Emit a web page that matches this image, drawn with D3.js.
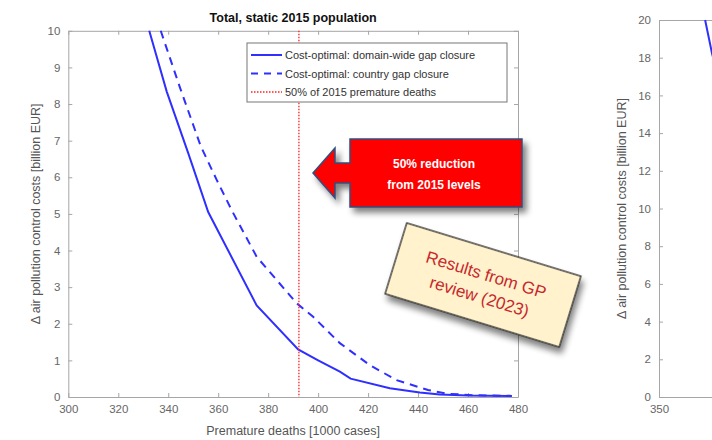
<!DOCTYPE html>
<html><head><meta charset="utf-8">
<script src="https://cdn.jsdelivr.net/npm/d3@7"></script>
<style>body{margin:0;background:#fff}svg{display:block}text{font-family:"Liberation Sans",Arial,sans-serif}</style>
</head><body>
<svg id="c" width="712" height="440"></svg>
<script>
// ---- data ----
const xTicks = [300,320,340,360,380,400,420,440,460,480];
const yTicks = [0,1,2,3,4,5,6,7,8,9,10];
const domainWideX = [332.4,339.4,348,356,375.4,392,400,408.7,413,428.7,440.7,448.7,460,477.5];
const domainWideY = [10,8.34,6.66,5.05,2.5,1.3,1.0,0.69,0.5,0.24,0.12,0.07,0.04,0.03];
const countryX = [337,344.7,353,359.4,365.4,375.4,391.4,398,408.7,420.7,431.4,444,451.4,462,477.5];
const countryY = [10,8.45,6.85,5.93,5.1,3.83,2.56,2.19,1.47,0.87,0.46,0.19,0.09,0.05,0.03];
const halfDeaths = 392.3;
const legendLabels = ["Cost-optimal: domain-wide gap closure","Cost-optimal: country gap closure","50% of 2015 premature deaths"];
const rightYTicks = [0,2,4,6,8,10,12,14,16,18,20];
const rightXTicks = [350];
const rightLineX = [366.4,368.9,372];
const rightLineY = [20,18.2,16.5];

const svg = d3.select("#c");
const axisCol = "#a6a6a6", tickTxt = "#666", blue = "#2f2fff";

// ---- left chart ----
const L = {l:68.3, r:518, t:30.8, b:397};
const x = d3.scaleLinear().domain([300,480]).range([L.l,L.r]);
const y = d3.scaleLinear().domain([0,10]).range([L.b,L.t]);
const g = svg.append("g");

function styleAxis(sel){
  sel.select(".domain").attr("stroke",axisCol);
  sel.selectAll(".tick line").attr("stroke",axisCol);
  sel.selectAll(".tick text").attr("fill",tickTxt).attr("font-size",11.5);
}
g.append("g").attr("transform",`translate(0,${L.b})`)
 .call(d3.axisBottom(x).tickValues(xTicks).tickSize(-4).tickPadding(8).tickSizeOuter(0)).call(styleAxis);
g.append("g").attr("transform",`translate(0,${L.t})`)
 .call(d3.axisTop(x).tickValues(xTicks).tickSize(-4).tickFormat("").tickSizeOuter(0)).call(styleAxis);
g.append("g").attr("transform",`translate(${L.l},0)`)
 .call(d3.axisLeft(y).tickValues(yTicks).tickSize(-4).tickPadding(8).tickSizeOuter(0)).call(styleAxis);
g.append("g").attr("transform",`translate(${L.r},0)`)
 .call(d3.axisRight(y).tickValues(yTicks).tickSize(-4).tickFormat("").tickSizeOuter(0)).call(styleAxis);

svg.append("clipPath").attr("id","pc").append("rect")
  .attr("x",L.l).attr("y",L.t-1).attr("width",L.r-L.l).attr("height",L.b-L.t+1);
const line = d3.line().x(d=>x(d[0])).y(d=>y(d[1]));
g.append("path").datum(domainWideX.map((v,i)=>[v,domainWideY[i]]))
 .attr("d",line).attr("fill","none").attr("stroke",blue).attr("stroke-width",2).attr("clip-path","url(#pc)");
g.append("path").datum(countryX.map((v,i)=>[v,countryY[i]]))
 .attr("d",line).attr("fill","none").attr("stroke",blue).attr("stroke-width",2)
 .attr("stroke-dasharray","8,6").attr("clip-path","url(#pc)");
g.append("line").attr("x1",x(halfDeaths)).attr("x2",x(halfDeaths)).attr("y1",L.t).attr("y2",L.b)
 .attr("stroke","#ff2020").attr("stroke-width",1.3).attr("stroke-dasharray","1.5,1.5");

g.append("text").attr("x",(L.l+L.r)/2).attr("y",22).attr("text-anchor","middle")
 .attr("font-size",12.5).attr("font-weight","bold").attr("fill","#111").text("Total, static 2015 population");
g.append("text").attr("x",(L.l+L.r)/2).attr("y",435).attr("text-anchor","middle")
 .attr("font-size",12.5).attr("fill","#555").text("Premature deaths [1000 cases]");
g.append("text").attr("transform",`translate(40,${(L.t+L.b)/2}) rotate(-90)`).attr("text-anchor","middle")
 .attr("font-size",12.5).attr("fill","#555").text("\u0394 air pollution control costs [billion EUR]");

// legend
const lg = g.append("g");
lg.append("rect").attr("x",247).attr("y",43).attr("width",260).attr("height",59)
  .attr("fill","#fff").attr("stroke","#777").attr("stroke-width",1);
const lstyles = [{d:null,c:blue,w:2},{d:"7,6",c:blue,w:2},{d:"1.5,1.5",c:"#ff2020",w:1.3}];
legendLabels.forEach((t,i)=>{
  const yy = 55+i*18.5;
  lg.append("line").attr("x1",251).attr("x2",282).attr("y1",yy).attr("y2",yy)
    .attr("stroke",lstyles[i].c).attr("stroke-width",lstyles[i].w).attr("stroke-dasharray",lstyles[i].d);
  lg.append("text").attr("x",285).attr("y",yy+4).attr("font-size",11).attr("fill","#333").text(t);
});

// ---- right chart (partial) ----
const R = {l:659, t:20, b:397};
const xr = d3.scaleLinear().domain([350,510]).range([R.l,R.l+450]);
const yr = d3.scaleLinear().domain([0,20]).range([R.b,R.t]);
const gr = svg.append("g");
gr.append("g").attr("transform",`translate(0,${R.b})`)
 .call(d3.axisBottom(xr).tickValues(rightXTicks).tickSize(-4).tickPadding(8).tickSizeOuter(0)).call(styleAxis);
gr.append("g").attr("transform",`translate(0,${R.t})`)
 .call(d3.axisTop(xr).tickValues(rightXTicks).tickSize(0).tickFormat("").tickSizeOuter(0)).call(styleAxis);
gr.append("g").attr("transform",`translate(${R.l},0)`)
 .call(d3.axisLeft(yr).tickValues(rightYTicks).tickSize(-4).tickPadding(8).tickSizeOuter(0)).call(styleAxis);
gr.append("path").datum(rightLineX.map((v,i)=>[v,rightLineY[i]]))
 .attr("d",d3.line().x(d=>xr(d[0])).y(d=>yr(d[1]))).attr("fill","none").attr("stroke",blue).attr("stroke-width",2);
gr.append("text").attr("transform",`translate(626,${(R.t+R.b)/2}) rotate(-90)`).attr("text-anchor","middle")
 .attr("font-size",12.5).attr("fill","#555").text("\u0394 air pollution control costs [billion EUR]");

// ---- annotations ----
const defs = svg.append("defs");
const f = defs.append("filter").attr("id","sh").attr("x","-20%").attr("y","-20%").attr("width","150%").attr("height","160%");
f.append("feGaussianBlur").attr("in","SourceAlpha").attr("stdDeviation",3);
f.append("feOffset").attr("dx",4).attr("dy",5).attr("result","ob");
f.append("feComponentTransfer").append("feFuncA").attr("type","linear").attr("slope",0.5);
const fm = f.append("feMerge"); fm.append("feMergeNode"); fm.append("feMergeNode").attr("in","SourceGraphic");

const arrowPts = [[313,173],[335,148],[335,163],[350,163],[350,139],[522,139],[522,207],[350,207],[350,183],[335,183],[335,198]];
svg.append("polygon").attr("points",arrowPts.map(p=>p.join(",")).join(" "))
  .attr("fill","#ff0000").attr("stroke","#2f4f7f").attr("stroke-width",1.5).attr("filter","url(#sh)");
svg.append("text").attr("x",434).attr("y",168).attr("text-anchor","middle").attr("fill","#fff")
  .attr("font-size",12).attr("font-weight","bold").attr("font-family","Open Sans, sans-serif").text("50% reduction");
svg.append("text").attr("x",434).attr("y",189).attr("text-anchor","middle").attr("fill","#fff")
  .attr("font-size",12).attr("font-weight","bold").attr("font-family","Open Sans, sans-serif").text("from 2015 levels");

const note = svg.append("g").attr("transform","translate(483,285) rotate(17)");
note.append("rect").attr("x",-91).attr("y",-37).attr("width",182).attr("height",74)
  .attr("fill","#fff2cc").attr("stroke","#222").attr("stroke-width",1.3).attr("filter","url(#sh)");
note.append("text").attr("x",0).attr("y",-5).attr("text-anchor","middle").attr("fill","#c8282d")
  .attr("font-size",17).attr("font-family","Open Sans, sans-serif").text("Results from GP");
note.append("text").attr("x",0).attr("y",18).attr("text-anchor","middle").attr("fill","#c8282d")
  .attr("font-size",17).attr("font-family","Open Sans, sans-serif").text("review (2023)");
</script>
</body></html>
